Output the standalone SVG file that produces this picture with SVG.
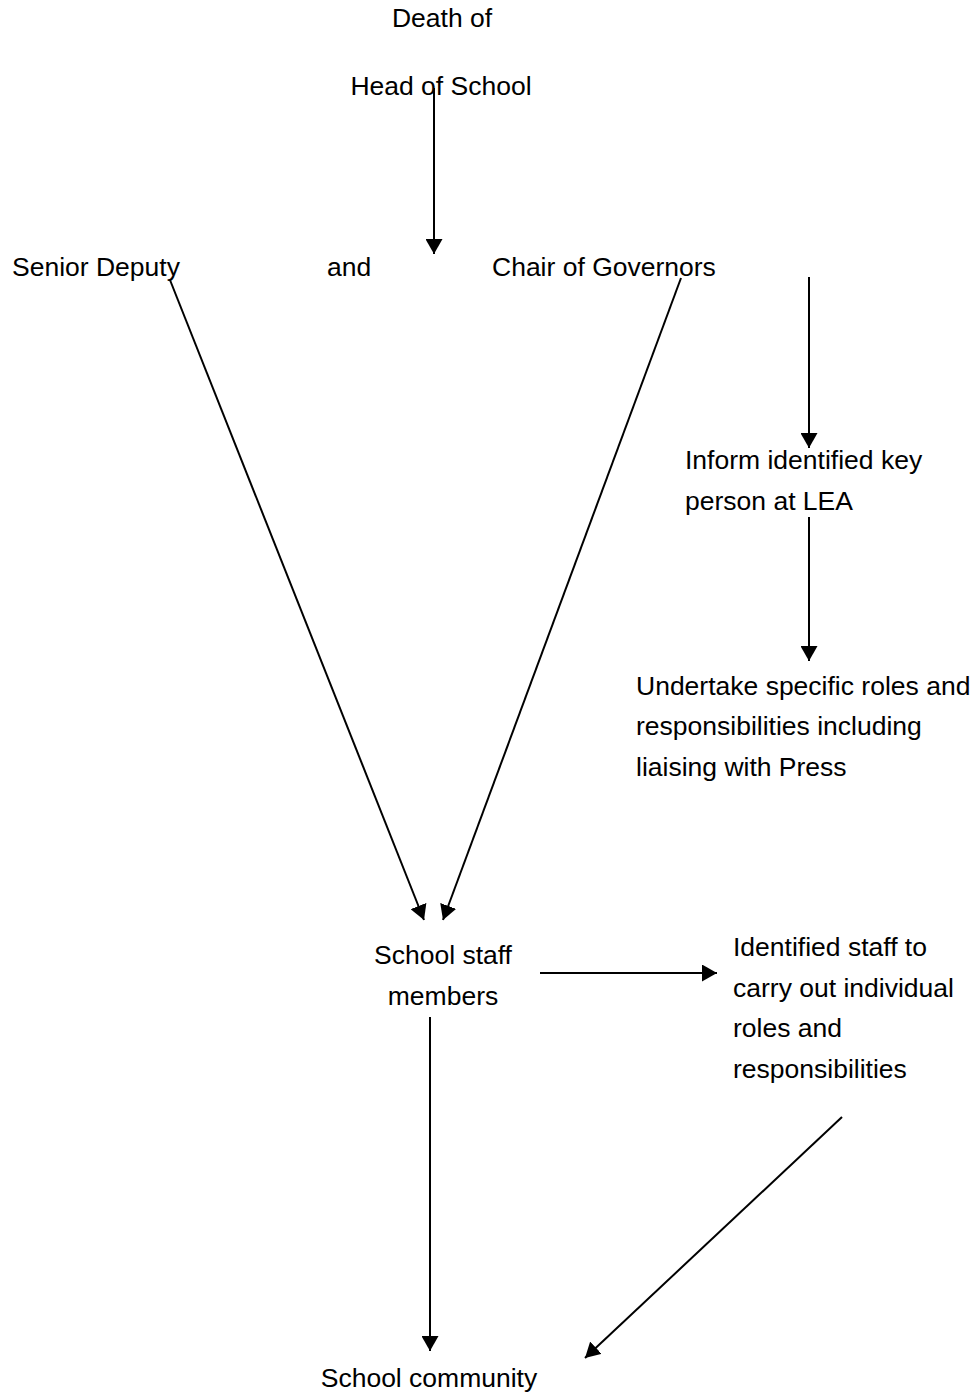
<svg xmlns="http://www.w3.org/2000/svg" width="979" height="1395" viewBox="0 0 979 1395">
<style>
text{font-family:"Liberation Sans",Arial,sans-serif;font-size:26.5px;fill:#000}
.m{text-anchor:middle}
.c line{stroke:#000;stroke-width:2;marker-end:url(#ah)}
</style>
<defs>
<marker id="ah" markerWidth="15" markerHeight="17" refX="15" refY="8.5" orient="auto" markerUnits="userSpaceOnUse">
<path d="M0,0 L15,8.5 L0,17 Z" fill="#000"/>
</marker>
</defs>
<rect width="979" height="1395" fill="#fff"/>
<g id="death"><text class="m" x="442" y="27">Death of</text><text class="m" x="441" y="95">Head of School</text></g>
<g id="deputy"><text x="12" y="276">Senior Deputy</text></g>
<g id="and"><text x="327" y="276">and</text></g>
<g id="chair"><text x="492" y="276">Chair of Governors</text></g>
<g id="inform"><text x="685" y="469">Inform identified key</text><text x="685" y="510">person at LEA</text></g>
<g id="undertake"><text x="636" y="695">Undertake specific roles and</text><text x="636" y="735">responsibilities including</text><text x="636" y="776">liaising with Press</text></g>
<g id="staff"><text class="m" x="443" y="964">School staff</text><text class="m" x="443" y="1005">members</text></g>
<g id="identified"><text x="733" y="956">Identified staff to</text><text x="733" y="997">carry out individual</text><text x="733" y="1037">roles and</text><text x="733" y="1078">responsibilities</text></g>
<g id="community"><text class="m" x="429" y="1387">School community</text></g>
<g class="c" id="connectors">
<line x1="434" y1="88" x2="434" y2="254"/>
<line x1="170" y1="280" x2="424" y2="920"/>
<line x1="681" y1="278" x2="443" y2="920"/>
<line x1="809" y1="277" x2="809" y2="448"/>
<line x1="809" y1="517" x2="809" y2="661"/>
<line x1="540" y1="973" x2="717" y2="973"/>
<line x1="430" y1="1017" x2="430" y2="1351"/>
<line x1="842" y1="1117" x2="585" y2="1358"/>
</g>
</svg>
